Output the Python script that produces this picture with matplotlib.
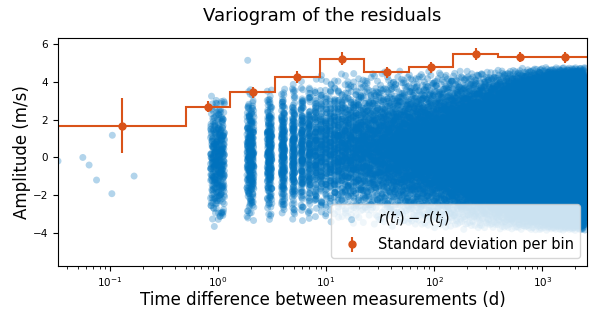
import numpy as np
import matplotlib
matplotlib.use("Agg")
import matplotlib.pyplot as plt

# binned standard deviation
bin_edges = [0.033, 0.5, 1.29, 3.37, 8.8, 22.5, 58.6, 151, 390, 998, 2662]
bin_centers = [0.129, 0.81, 2.11, 5.4, 14.1, 36.7, 93.8, 245, 624, 1630]
bin_std = [1.68, 2.67, 3.44, 4.25, 5.21, 4.49, 4.75, 5.46, 5.28, 5.28]
bin_err = [1.45, 0.30, 0.29, 0.30, 0.36, 0.29, 0.30, 0.30, 0.26, 0.28]

# isolated pairs at short lags
sparse_x = [0.033, 0.056, 0.064, 0.075, 0.104, 0.105, 0.167, 1.88]
sparse_y = [-0.19, 0.0, -0.40, -1.19, -1.91, 1.17, -0.98, 5.12]

# envelope of the dense cloud of pairs, per integer lag (days)
cloud_lag = [1, 3, 10, 30, 100, 300, 1000, 2500]
cloud_mean = [-0.1, 0.2, 0.5, 0.5, 0.4, 0.4, 0.45, 0.45]
cloud_sd = [1.7, 1.7, 1.75, 1.8, 1.95, 2.0, 2.05, 2.05]
cloud_zmax = [2.1, 2.1, 2.3, 2.3, 2.15, 2.1, 2.1, 2.1]
cloud_npts = [380, 240, 100, 45, 22, 15, 15, 15]

BLUE = '#0072BD'
ORANGE = '#D95319'


def radical_inverse(n, base):
    """van der Corput sequence (Halton component)"""
    n = np.asarray(n, dtype=np.int64) + 1
    out = np.zeros(n.shape)
    f = 1.0 / base
    while np.any(n > 0):
        out += f * (n % base)
        n //= base
        f /= base
    return out


def build_cloud():
    """Spread the pairs of each lag over the envelope with a Halton sequence"""
    lags = np.arange(1, 2501)
    ll = np.log10(lags)
    kl = np.log10(cloud_lag)
    mean = np.interp(ll, kl, cloud_mean)
    sd = np.interp(ll, kl, cloud_sd)
    zmax = np.interp(ll, kl, cloud_zmax)
    npts = np.round(np.interp(ll, kl, cloud_npts)).astype(int)

    lag_rep = np.repeat(lags, npts)
    g = np.arange(lag_rep.size)
    u1 = radical_inverse(g, 2)
    u2 = radical_inverse(g, 3)
    u3 = radical_inverse(g, 5)
    zm = np.repeat(zmax, npts)
    lo = np.exp(-zm ** 2 / 2)
    u1 = lo + (1 - lo) * u1           # truncated Box-Muller radius
    z = np.sqrt(-2 * np.log(u1)) * np.cos(2 * np.pi * u2)
    x = lag_rep + (u3 - 0.5) * 0.3
    y = np.repeat(mean, npts) + np.repeat(sd, npts) * z
    return x, y


fig, ax = plt.subplots(figsize=(5.92, 3.11), dpi=100)
fig.subplots_adjust(left=0.098, right=0.9916, bottom=0.146, top=0.878)

cx, cy = build_cloud()
sc = ax.scatter(np.concatenate([sparse_x, cx]), np.concatenate([sparse_y, cy]),
                s=25, color=BLUE, alpha=0.3, edgecolors='none',
                label=r'$r(t_i) - r(t_j)$', zorder=1, rasterized=True)

ax.stairs(bin_std, bin_edges, color=ORANGE, linewidth=1.5, zorder=2)
eb = ax.errorbar(bin_centers, bin_std, yerr=bin_err, fmt='o', color=ORANGE,
                 markersize=5, elinewidth=1.5, capsize=0, zorder=3,
                 label='Standard deviation per bin')

ax.set_xscale('log')
ax.set_xlim(0.033, 2600)
ax.set_ylim(-5.7, 6.3)
ax.set_yticks([-4, -2, 0, 2, 4, 6])
ax.tick_params(labelsize=7.5)

ax.set_title('Variogram of the residuals', fontsize=13, pad=12)
ax.set_xlabel('Time difference between measurements (d)', fontsize=12, labelpad=1)
ax.set_ylabel('Amplitude (m/s)', fontsize=12, labelpad=1.5)

ax.legend(handles=[sc, eb], loc='lower right', fontsize=10.5)

plt.savefig('out.png', dpi=100)
print("Saved: out.png")
